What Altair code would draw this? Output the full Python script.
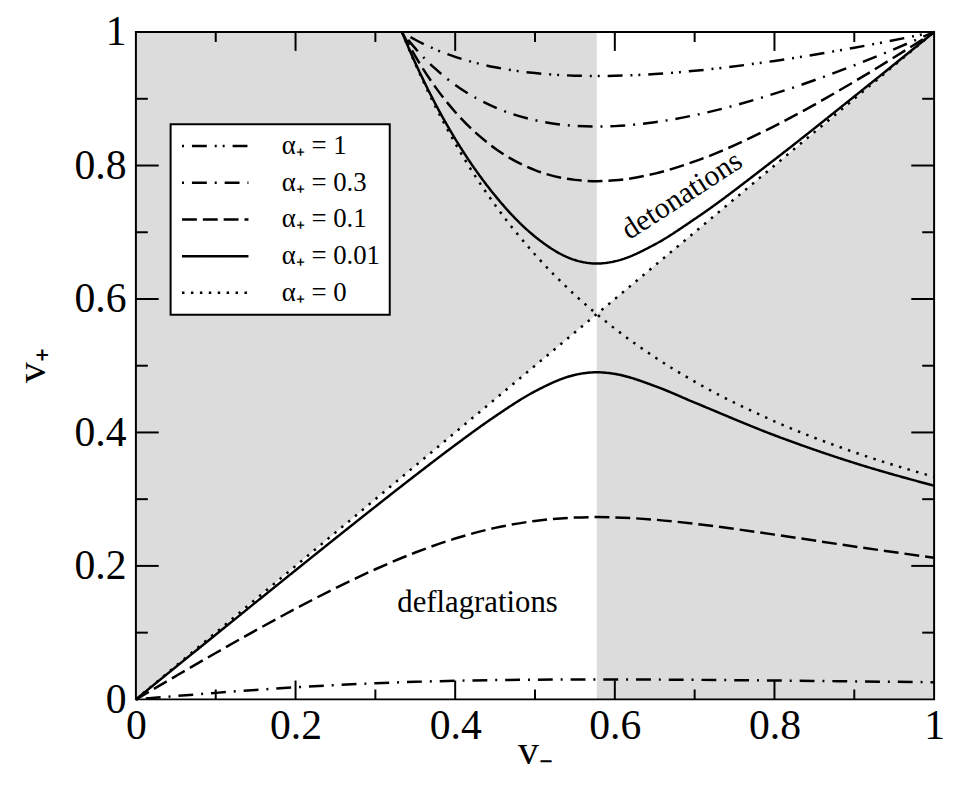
import altair as alt
import pandas as pd

# ---------------- data ----------------
labels = ["α₊ = 1", "α₊ = 0.3", "α₊ = 0.1", "α₊ = 0.01", "α₊ = 0"]
dashes = [[2, 8, 15, 8, 2, 6], [2, 8, 15, 8], [15, 6], [1, 0], [2.5, 6.5]]

# alpha_+ = 0 : straight line and hyperbola
a0_diag_x = [0.0, 1.0]
a0_diag_y = [0.0, 1.0]

# upper (detonation) branches
up_x = [0.33333, 0.34, 0.35, 0.375, 0.4, 0.45, 0.5, 0.55, 0.57735, 0.6, 0.65, 0.7, 0.8, 0.9, 1.0]
a0_up = [1.0, 0.98039, 0.95238, 0.88889, 0.83333, 0.74074, 0.66667, 0.60606, 0.57735, 0.55556, 0.51282, 0.47619, 0.41667, 0.37037, 0.33333]
a001_up = [1.0, 0.98097, 0.95388, 0.89281, 0.84002, 0.75485, 0.69350, 0.65836, 0.65308, 0.65643, 0.68170, 0.71979, 0.80881, 0.90345, 1.0]
a01_up = [1.0, 0.98501, 0.96393, 0.91789, 0.88023, 0.82555, 0.79317, 0.77848, 0.77658, 0.77778, 0.78788, 0.80613, 0.85916, 0.92575, 1.0]
a03_up = [1.0, 0.98978, 0.97555, 0.94509, 0.92087, 0.88705, 0.86789, 0.85944, 0.85836, 0.85904, 0.86483, 0.87547, 0.90765, 0.95022, 1.0]
a1_up = [1.0, 0.99515, 0.98843, 0.97413, 0.96286, 0.94726, 0.93851, 0.93466, 0.93417, 0.93448, 0.93711, 0.94197, 0.95674, 0.97653, 1.0]

# lower (deflagration) branches
low_x = [0.0, 0.05, 0.1, 0.15, 0.2, 0.25, 0.3, 0.35, 0.4, 0.45, 0.5, 0.55, 0.57735, 0.6, 0.65, 0.7, 0.8, 0.9, 1.0]
a001_low = [0.0, 0.04849, 0.09694, 0.14529, 0.19346, 0.24137, 0.28884, 0.33560, 0.38111, 0.42410, 0.46162, 0.48626, 0.49019, 0.48769, 0.46960, 0.44476, 0.39580, 0.35434, 0.32014]
a01_low = [0.0, 0.03494, 0.06951, 0.10331, 0.13587, 0.16667, 0.19499, 0.22005, 0.24099, 0.25695, 0.26743, 0.27248, 0.27315, 0.27273, 0.26923, 0.26314, 0.24689, 0.22914, 0.21212]
a03_low = [0.0, 0.00496, 0.00975, 0.01416, 0.01808, 0.02143, 0.02416, 0.02628, 0.02785, 0.02891, 0.02954, 0.02984, 0.02987, 0.02985, 0.02965, 0.02929, 0.02825, 0.02698, 0.02564]

# shaded regions (v_- , lower v_+, upper v_+)
shade_left_x = [0.0, 0.57735]
shade_left_lo = [0.0, 0.57735]
shade_left_hi = [1.0, 1.0]
shade_right_x = [0.57735, 1.0]
shade_right_lo = [0.0, 0.0]
shade_right_hi = [0.57735, 1.0]

tick_labels = [0, 0.2, 0.4, 0.6, 0.8, 1]
major_ticks = [0.2, 0.4, 0.6, 0.8]
minor_ticks = [0.1, 0.3, 0.5, 0.7, 0.9]

annotations = ["detonations", "deflagrations"]
annot_x = [0.684, 0.428]
annot_y = [0.755, 0.145]

# ---------------- build tables ----------------
rows = []
def add(label, key, xs, ys):
    for x, y in zip(xs, ys):
        rows.append({"alpha": label, "branch": label + "|" + key, "vm": x, "vp": y})

add(labels[4], "diag", a0_diag_x, a0_diag_y)
add(labels[4], "up", up_x, a0_up)
add(labels[3], "up", up_x, a001_up)
add(labels[3], "low", low_x, a001_low)
add(labels[2], "up", up_x, a01_up)
add(labels[2], "low", low_x, a01_low)
add(labels[1], "up", up_x, a03_up)
add(labels[1], "low", low_x, a03_low)
add(labels[0], "up", up_x, a1_up)
curves = pd.DataFrame(rows)

shade = pd.DataFrame(
    [{"reg": "L", "x": x, "lo": lo, "hi": hi} for x, lo, hi in zip(shade_left_x, shade_left_lo, shade_left_hi)]
    + [{"reg": "R", "x": x, "lo": lo, "hi": hi} for x, lo, hi in zip(shade_right_x, shade_right_lo, shade_right_hi)]
)

W, H = 805, 673
FONT = "Liberation Serif"

xscale = alt.Scale(domain=[0, 1], nice=False, zero=False)
yscale = alt.Scale(domain=[0, 1], nice=False, zero=False)

xaxis = alt.Axis(values=tick_labels, format="~g", ticks=False, domain=False, grid=False,
                 labelFont=FONT, labelFontSize=42, labelColor="black", labelPadding=6,
                 labelFlush=False, labelOverlap=False,
                 title="v₋", titleFont=FONT, titleFontSize=42, titleFontWeight="normal",
                 titleColor="black", titleY=65, titleBaseline="alphabetic")
yaxis = alt.Axis(values=tick_labels, format="~g", ticks=False, domain=False, grid=False,
                 labelFont=FONT, labelFontSize=42, labelColor="black", labelPadding=10,
                 labelOverlap=False,
                 title="v₊", titleFont=FONT, titleFontSize=42, titleFontWeight="normal",
                 titleColor="black", titleX=-92, titleY=336, titleAlign="center",
                 titleBaseline="alphabetic")

areas = alt.Chart(shade).mark_area(color="#dcdcdc", opacity=1, interpolate="linear").encode(
    x=alt.X("x:Q", scale=xscale, axis=xaxis),
    y=alt.Y("lo:Q", scale=yscale, axis=yaxis),
    y2="hi:Q",
    detail="reg:N",
)

lines = alt.Chart(curves).mark_line(interpolate="monotone", strokeWidth=2.5, color="black").encode(
    x=alt.X("vm:Q", scale=xscale),
    y=alt.Y("vp:Q", scale=yscale),
    detail="branch:N",
    strokeDash=alt.StrokeDash(
        "alpha:N",
        scale=alt.Scale(domain=labels, range=dashes),
        legend=alt.Legend(title=None, orient="none", legendX=35, legendY=93,
                          symbolType="stroke", symbolSize=4489, symbolStrokeWidth=2.5,
                          symbolStrokeColor="black", clipHeight=26, rowPadding=10,
                          labelFont=FONT, labelFontSize=27, labelColor="black",
                          labelOffset=32, symbolOffset=1, padding=9, labelLimit=400,
                          strokeColor="black", fillColor="white"),
    ),
)

ann = pd.DataFrame({"t": annotations, "x": annot_x, "y": annot_y})
text_det = alt.Chart(ann.iloc[[0]]).mark_text(font=FONT, fontSize=30, angle=327, color="black",
                                              align="center", baseline="middle").encode(
    x=alt.X("x:Q", scale=xscale), y=alt.Y("y:Q", scale=yscale), text="t:N")
text_def = alt.Chart(ann.iloc[[1]]).mark_text(font=FONT, fontSize=31, color="black",
                                              align="center", baseline="middle").encode(
    x=alt.X("x:Q", scale=xscale), y=alt.Y("y:Q", scale=yscale), text="t:N")

# inward ticks on all four sides
tick_layers = []
for vals, lv, lh in [(major_ticks, 19, 23), (minor_ticks, 10, 12)]:
    td = pd.DataFrame({"t": vals})
    base = alt.Chart(td).mark_rule(color="black", strokeWidth=2)
    tick_layers.append(base.encode(x=alt.X("t:Q", scale=xscale), y=alt.value(H), y2=alt.value(H - lv)))
    tick_layers.append(base.encode(x=alt.X("t:Q", scale=xscale), y=alt.value(0), y2=alt.value(lv)))
    tick_layers.append(base.encode(y=alt.Y("t:Q", scale=yscale), x=alt.value(0), x2=alt.value(lh)))
    tick_layers.append(base.encode(y=alt.Y("t:Q", scale=yscale), x=alt.value(W), x2=alt.value(W - lh)))

frame = alt.Chart(pd.DataFrame({"k": [0]})).mark_rect(fill="transparent", stroke="black", strokeWidth=2).encode(
    x=alt.value(0), x2=alt.value(W), y=alt.value(0), y2=alt.value(H))

chart = alt.layer(areas, lines, text_det, text_def, *tick_layers, frame).properties(
    width=W, height=H,
    autosize=alt.AutoSizeParams(type="none"),
    padding={"left": 129, "top": 21, "right": 12, "bottom": 72},
    background="white",
).configure_view(strokeWidth=0).configure_legend(strokeWidth=2)

chart.save("out.html", embed_options={"renderer": "svg", "actions": False})
